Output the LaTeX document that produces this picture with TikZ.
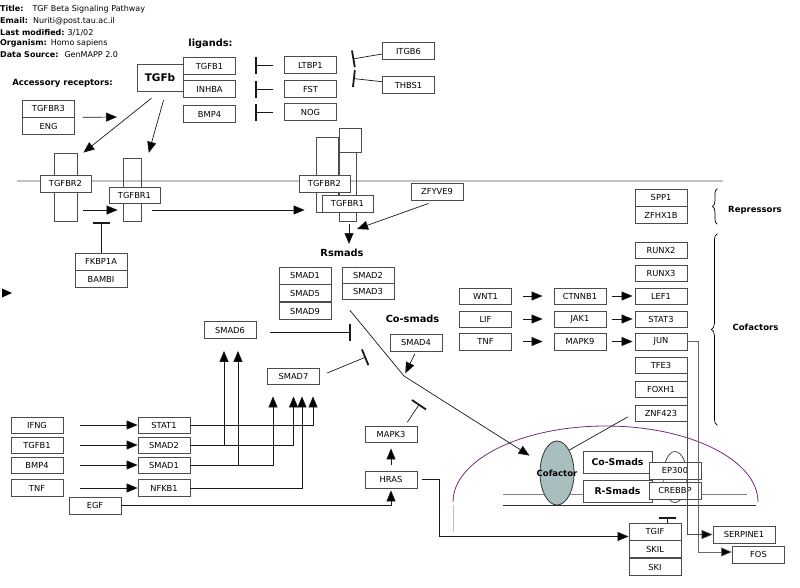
\documentclass[tikz,border=0pt]{standalone}
\usepackage{fontspec}
\setmainfont{DejaVu Sans}
\usetikzlibrary{arrows.meta,positioning,shapes.geometric,decorations.pathreplacing}
\definecolor{nucleus}{HTML}{7A2A7A}
\definecolor{cofill}{HTML}{A9BEBE}
\definecolor{membrane}{HTML}{C4C4C4}

\begin{document}
\begin{tikzpicture}[x=1pt, y=-1pt,
  gene/.style={draw=black!70, fill=white, line width=0.8pt, minimum width=52pt,
               minimum height=17pt, inner sep=0pt, font=\fontsize{8.3}{9}\selectfont},
  recbar/.style={draw=black!70, line width=0.8pt, inner sep=0pt},
  hdr/.style={anchor=west, inner sep=0pt, font=\fontsize{8}{9.5}\selectfont},
  lbl/.style={inner sep=0pt, font=\bfseries\fontsize{8.5}{10}\selectfont},
  biglbl/.style={inner sep=0pt, font=\bfseries\fontsize{9.8}{11}\selectfont},
  link/.style={draw=black!90, line width=0.7pt},
  arr/.style={link, -{Triangle[length=11pt,width=9pt,fill=black]}},
  inh/.style={link, -{Bar[width=17pt,line width=1.8pt]}}
]
  \useasboundingbox (0,0) rectangle (800,587);

  % header
  \node[hdr] (title) at (0,9.3) {\textbf{Title:}\hspace{9pt}TGF Beta Signaling Pathway};
  \node[hdr] (email) at (0,21.5) {\textbf{Email:}\hspace{5pt}Nuriti@post.tau.ac.il};
  \node[hdr] (modif) at (0,32.7) {\textbf{Last modified:}\hspace{3pt}3/1/02};
  \node[hdr] (organ) at (0,43.7) {\textbf{Organism:}\hspace{4pt}Homo sapiens};
  \node[hdr] (datas) at (0,54.5) {\textbf{Data Source:}\hspace{6pt}GenMAPP 2.0};

  % membrane
  \draw[membrane, line width=1.6pt] (17,181) -- (723,181);

  % ligands
  \node[biglbl] (ligl) at (210.5,44) {ligands:};
  \node[gene, minimum width=46pt, minimum height=27pt,
        font=\bfseries\fontsize{10.5}{12}\selectfont] (tgfb) at (160,77.5) {TGFb};
  \node[gene] (tgfb1) at (209.5,66) {TGFB1};
  \node[gene] (inhba) at (209.5,89) {INHBA};
  \node[gene] (bmp4) at (209.5,114) {BMP4};
  \node[gene] (ltbp1) at (310.5,65) {LTBP1};
  \node[gene] (fst) at (310.5,89) {FST};
  \node[gene] (nog) at (310.5,112) {NOG};
  \node[gene] (itgb6) at (408.5,51) {ITGB6};
  \node[gene] (thbs1) at (408.5,85) {THBS1};
  \coordinate (itbar) at (352.5,59);
  \coordinate (thbar) at (353,78.5);

  % accessory receptors
  \node[lbl] (accl) at (62.5,83.3) {Accessory receptors:};
  \node[gene] (tgfbr3) at (48.5,108.5) {TGFBR3};
  \node[gene, below=0pt of tgfbr3] (eng) {ENG};
  \coordinate (acctip) at (117,117);

  % receptors
  \node[recbar, minimum width=23pt, minimum height=68pt] (r2bar) at (65.5,187) {};
  \node[recbar, minimum width=18pt, minimum height=63pt] (r1bar) at (132,189.5) {};
  \node[gene, minimum width=51pt] (tgfbr2) at (65.5,183.5) {TGFBR2};
  \node[gene, minimum width=51pt, minimum height=16pt] (tgfbr1) at (134.5,195) {TGFBR1};
  \node[recbar, minimum width=22pt, minimum height=75pt] (rAbar) at (327,174.5) {};
  \node[recbar, minimum width=22pt, minimum height=24pt] (rcap) at (350,140) {};
  \node[recbar, minimum width=17pt, minimum height=69pt] (rBbar) at (347.5,186.5) {};
  \node[gene, minimum width=51pt] (tgfbr2b) at (324.5,183.5) {TGFBR2};
  \node[gene, minimum width=51pt] (tgfbr1b) at (347.5,203.5) {TGFBR1};
  \node[gene] (zfyve9) at (437,191.5) {ZFYVE9};
  \coordinate (zftip) at (357,229);

  \node[gene] (fkbp1a) at (101,261.5) {FKBP1A};
  \node[gene, below=0pt of fkbp1a] (bambi) {BAMBI};
  \coordinate (fkbar) at (101,221.5);
  \fill[black] (2,288.5) -- (12,293) -- (2,297.5) -- cycle;

  % smads
  \node[biglbl] (rsm) at (342,253) {Rsmads};
  \coordinate (rsmtip) at (349,244);
  \node[gene] (smad1) at (305,275.5) {SMAD1};
  \node[gene, below=0pt of smad1] (smad5) {SMAD5};
  \node[gene, below=0pt of smad5] (smad9) {SMAD9};
  \node[gene, minimum height=16pt] (smad2) at (368,275) {SMAD2};
  \node[gene, minimum height=16pt, below=0pt of smad2] (smad3) {SMAD3};
  \node[biglbl] (cosm) at (412.5,319) {Co-smads};
  \node[gene] (smad4) at (416,342.5) {SMAD4};
  \coordinate (kink) at (404,376);
  \node[gene] (smad6) at (230,330) {SMAD6};
  \coordinate (s6bar) at (351,332);
  \node[gene, minimum height=16pt] (smad7) at (293.5,376) {SMAD7};
  \coordinate (s7bar) at (366,357);

  % MAPK branch
  \node[gene, minimum height=16pt] (mapk3) at (391,434) {MAPK3};
  \node[gene] (hras) at (391,479.5) {HRAS};
  \node[gene] (egf) at (95,505.5) {EGF};
  \coordinate (m3bar) at (419.5,404);

  % inputs
  \node[gene, minimum height=16pt] (ifng) at (37,425) {IFNG};
  \node[gene, minimum height=16pt] (tgfb1b) at (37,445) {TGFB1};
  \node[gene, minimum height=16pt] (bmp4b) at (37,465) {BMP4};
  \node[gene] (tnf) at (37,488) {TNF};
  \node[gene, minimum height=16pt] (stat1) at (164,425) {STAT1};
  \node[gene, minimum height=16pt] (smad2b) at (164,445) {SMAD2};
  \node[gene, minimum height=16pt] (smad1b) at (164,465) {SMAD1};
  \node[gene] (nfkb1) at (164,488) {NFKB1};

  % cofactors
  \node[gene, minimum height=16pt] (wnt1) at (485.5,296) {WNT1};
  \node[gene, minimum height=16pt] (lif) at (485.5,319) {LIF};
  \node[gene] (tnfr) at (485.5,341.5) {TNF};
  \node[gene, minimum height=16pt] (ctnnb1) at (580,296) {CTNNB1};
  \node[gene, minimum height=16pt] (jak1) at (580,319) {JAK1};
  \node[gene] (mapk9) at (580,341.5) {MAPK9};
  \node[gene] (spp1) at (661,197.5) {SPP1};
  \node[gene, below=0pt of spp1] (zfhx1b) {ZFHX1B};
  \node[gene, minimum height=16pt] (runx2) at (661,250) {RUNX2};
  \node[gene, minimum height=16pt] (runx3) at (661,273) {RUNX3};
  \node[gene, minimum height=16pt] (lef1) at (661,296) {LEF1};
  \node[gene, minimum height=16pt] (stat3) at (661,319) {STAT3};
  \node[gene] (jun) at (661,341.5) {JUN};
  \node[gene, minimum height=16pt] (tfe3) at (661,365) {TFE3};
  \node[gene, minimum height=16pt] (foxh1) at (661,389.5) {FOXH1};
  \node[gene, minimum height=16pt] (znf423) at (661,413) {ZNF423};
  \node[lbl] (repl) at (755,210) {Repressors};
  \node[lbl] (cofl) at (755.5,327) {Cofactors};

  % nucleus
  \draw[nucleus, line width=0.8pt] (453,502) arc[start angle=180, end angle=0,
        x radius=152.5pt, y radius=76pt];
  \draw[black!25, line width=1pt] (453,505) -- (453,532);
  \draw[black!50, line width=0.8pt] (503,494) -- (747,494);
  \draw[black!80, line width=0.8pt] (503,505) -- (756,505);
  \node[ellipse, draw=black!80, fill=cofill, line width=0.8pt, minimum width=34pt,
        minimum height=64pt, inner sep=0pt,
        label={[font=\bfseries\fontsize{8.5}{9}\selectfont]center:Cofactor}] (cofactor) at (557,473) {};
  \node[ellipse, draw=black!70, fill=white, line width=0.8pt, minimum width=24pt,
        minimum height=51pt, inner sep=0pt] (pol) at (675,477) {};
  \node[gene, minimum width=69pt, minimum height=22pt,
        font=\bfseries\fontsize{9.3}{11}\selectfont] (cosmads) at (617.5,462) {Co-Smads};
  \node[gene, minimum width=69pt, minimum height=22pt,
        font=\bfseries\fontsize{9.3}{11}\selectfont] (rsmads) at (617.5,491) {R-Smads};
  \node[gene] (ep300) at (675,470.5) {EP300};
  \node[gene] (crebbp) at (675,490.5) {CREBBP};
  \node[gene] (tgif) at (655,531.5) {TGIF};
  \node[gene, below=0pt of tgif] (skil) {SKIL};
  \node[gene, below=0pt of skil] (ski) {SKI};
  \coordinate (tgbar) at (667,517);
  \node[gene, minimum width=62pt] (serpine1) at (744,534.5) {SERPINE1};
  \node[gene] (fos) at (758.5,554.5) {FOS};

  % ligand connectors
  \draw[inh, shorten <=11pt, shorten >=19pt] (ltbp1.west) -- (tgfb1.east |- ltbp1.west);
  \draw[inh, shorten <=11pt, shorten >=19pt] (fst.west) -- (inhba.east);
  \draw[inh, shorten <=11pt, shorten >=19pt] (nog.west) -- (bmp4.east |- nog.west);
  \draw[inh] ([yshift=-3pt]itgb6.west) -- (itbar);
  \draw[inh] ([yshift=3.3pt]thbs1.west) -- (thbar);
  \draw[arr, shorten <=8pt] (tgfbr3.south east) -- (acctip);
  \draw[arr, shorten <=11pt] (tgfb.south) -- ([xshift=6pt]r2bar.north east);
  \draw[arr, shorten <=9pt, shorten >=5pt] ([xshift=6pt]tgfb.south) -- ([xshift=6pt]r1bar.north east);

  % receptor connectors
  \draw[arr, shorten <=6pt, shorten >=5pt] ([yshift=-23pt]r2bar.east) -- ([yshift=-20.5pt]r1bar.west);
  \draw[arr, shorten <=11pt, shorten >=11pt] ([yshift=-20.5pt]r1bar.east) -- ([yshift=-35.5pt]rAbar.west);
  \draw[inh, -{Bar[width=17pt,line width=2.6pt]}] (fkbp1a.north) -- (fkbar);
  \draw[arr, shorten <=9pt] (zfyve9.south) -- (zftip);
  \draw[arr, shorten <=3pt] ([xshift=1.5pt]rBbar.south) -- (rsmtip);

  % smad connectors
  \draw[arr, shorten <=13pt, shorten >=13pt] (smad3.south west) -- (kink) -- (cofactor);
  \draw[arr, shorten <=3pt, shorten >=3pt] (smad4.south) -- (kink);
  \draw[inh, shorten <=14pt] (smad6.east |- s6bar) -- (s6bar);
  \draw[inh, shorten <=8pt] (smad7.east) -- (s7bar);
  \draw[arr, shorten <=6pt, shorten >=6pt] (hras) -- (mapk3);
  \draw[inh, shorten <=4pt] ([xshift=14pt]mapk3.north) -- (m3bar);
  \draw[arr, shorten >=2pt] (egf.east) -| (hras.south);
  \draw[arr, shorten <=5pt] (hras.east) -- ++(22,0) |- ([yshift=-5pt]tgif.west);

  \foreach \a/\b in {ifng/stat1, tgfb1b/smad2b, bmp4b/smad1b, tnf/nfkb1}
    \draw[arr, shorten <=17pt] (\a) -- (\b);
  \draw[arr, shorten >=12pt] (stat1.east) -| ([xshift=19.5pt]smad7.south);
  \draw[arr, shorten >=12pt] (smad2b.east) -| (smad7.south);
  \draw[arr, shorten >=12pt] (smad1b.east) -| ([xshift=-20.5pt]smad7.south);
  \draw[arr, shorten >=12pt] (nfkb1.east) -| ([xshift=8.5pt]smad7.south);
  \draw[arr, shorten >=12pt] ([xshift=-6pt]smad6.south |- smad2b.east) -- ([xshift=-6pt]smad6.south);
  \draw[arr, shorten >=12pt] ([xshift=8pt]smad6.south |- smad1b.east) -- ([xshift=8pt]smad6.south);

  % cofactor connectors
  \foreach \a/\b in {wnt1/ctnnb1, lif/jak1, tnfr/mapk9}
    \draw[arr, shorten <=11pt, shorten >=11pt] (\a) -- (\b);
  \foreach \a/\b in {ctnnb1/lef1, jak1/stat3, mapk9/jun}
    \draw[arr, shorten <=6pt, shorten >=2pt] (\a) -- (\b);
  \draw[decorate, decoration={brace, amplitude=5pt}, line width=0.7pt]
    ([xshift=30pt]zfhx1b.south east) -- ([xshift=30pt]spp1.north east);
  \draw[decorate, decoration={brace, amplitude=6pt}, line width=0.7pt]
    ([xshift=30pt,yshift=-4pt]znf423.south east) -- ([xshift=30pt,yshift=8pt]runx2.north east);
  \draw[link, shorten <=8pt] (znf423.west) -- (cofactor.north east);
  \draw[arr, draw=black!60] (jun.east) -- ++(11,0) |- ([yshift=2.5pt]fos.west);
  \draw[arr, draw=black!70] (tfe3.south east) |- (serpine1.west);
  \draw[inh] ([xshift=12pt]tgif.north) -- (tgbar);
\end{tikzpicture}
\end{document}
